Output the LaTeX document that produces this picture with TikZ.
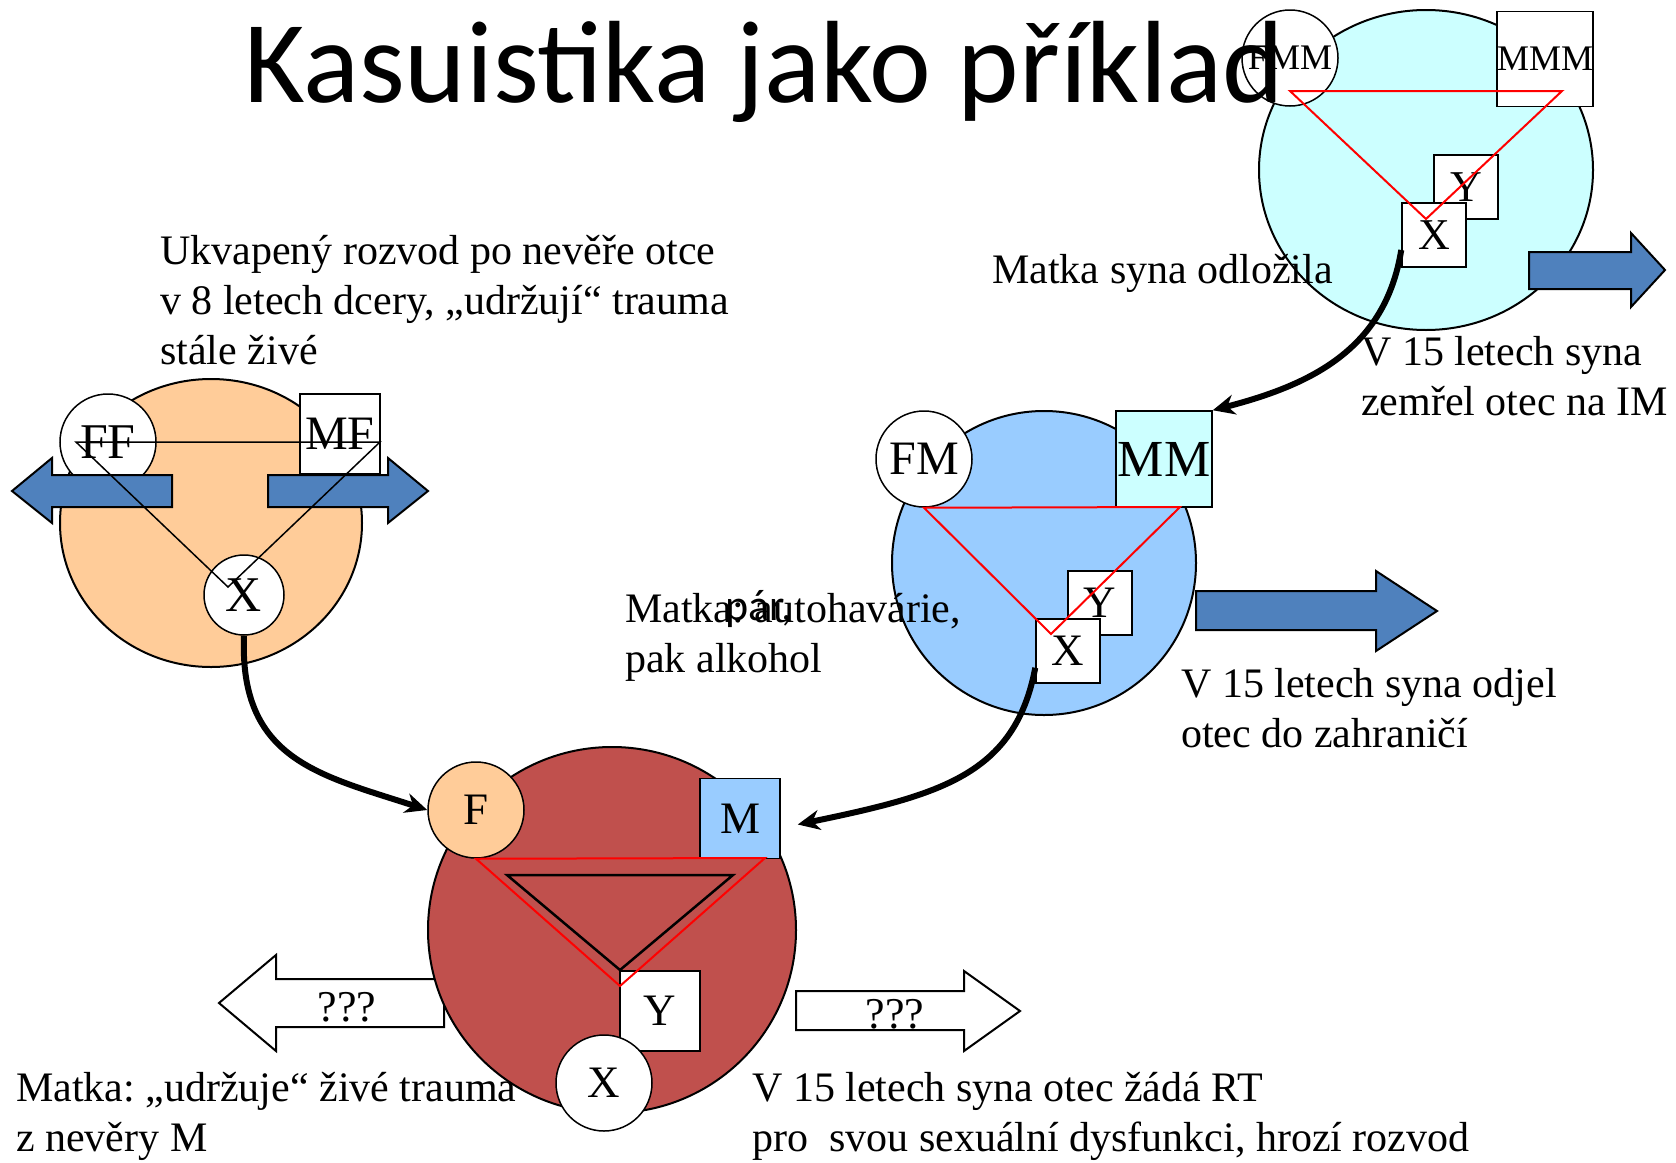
\documentclass[tikz,border=0pt]{standalone}
\usepackage{fontspec}
\setmainfont{Liberation Serif}
\newfontfamily\calibri{Carlito}
\usetikzlibrary{shapes.geometric,arrows.meta,calc}
\frenchspacing

\definecolor{orangefam}{RGB}{255,204,153}
\definecolor{bluefam}{RGB}{153,204,255}
\definecolor{cyanfam}{RGB}{204,255,255}
\definecolor{redfam}{RGB}{192,80,77}
\definecolor{arrowblue}{RGB}{79,129,189}

\tikzset{
  family/.style={ellipse, draw, line width=2pt, inner sep=0pt},
  person/.style={circle, draw, fill=white, line width=1.5pt, inner sep=0pt,
    minimum size=96pt, font=\fontsize{45}{50}\selectfont},
  personbox/.style={rectangle, draw, fill=white, line width=1.5pt, inner sep=0pt,
    minimum size=80pt, font=\fontsize{45}{50}\selectfont},
  redtri/.style={draw=red, line width=2pt},
  blockarrow/.style={draw, line width=2pt, fill=arrowblue},
  link/.style={line width=6pt, -{Stealth[length=22pt,width=20pt,inset=7pt]}},
  note/.style={anchor=base west, align=left, inner sep=0pt,
    font=\fontsize{42}{50}\selectfont},
}

\begin{document}
\begin{tikzpicture}[x=1pt,y=-1pt]
  \useasboundingbox (0,0) rectangle (1676,1162);

  % father's family
  \node[family, fill=orangefam, minimum width=302pt, minimum height=288pt] (famF) at (211,523) {};
  \node[person, font=\fontsize{50}{54}\selectfont] (FF) at (108,442) {FF};
  \node[personbox, font=\fontsize{48}{52}\selectfont] (MF) at (340,434) {MF};
  \draw[blockarrow] (172,475) -- (52,475) -- (52,458) -- (12,491) -- (52,523) -- (52,507) -- (172,507) -- cycle;
  \draw[blockarrow] (268,475) -- (388,475) -- (388,458) -- (428,491) -- (388,523) -- (388,507) -- (268,507) -- cycle;
  \node[person, minimum size=80pt, font=\fontsize{50}{54}\selectfont] (X1) at (244,595) {X};
  \draw[line width=1.5pt] (76,442) -- (380,442) -- (228,587) -- cycle;

  % mother's family
  \node[family, fill=bluefam, minimum size=304pt] (famM) at (1044,563) {};
  \node[person, font=\fontsize{48}{50}\selectfont] (FM) at (924,459) {FM};
  \node[personbox, fill=cyanfam, minimum size=96pt, font=\fontsize{52}{56}\selectfont] (MM) at (1164,459) {MM};
  \node[personbox, minimum size=64pt] (Y2) at (1100,603) {Y};
  \node[personbox, minimum size=64pt] (X2) at (1068,651) {X};
  \draw[redtri] (FM.south) -- (1180,507) -- (1051,634) -- cycle;
  \draw[blockarrow] (1196,591) -- (1376,591) -- (1376,571) -- (1437,611) -- (1376,651) -- (1376,630) -- (1196,630) -- cycle;

  % grandmother's family
  \node[family, fill=cyanfam, minimum width=334pt, minimum height=320pt] (famMM) at (1426,170) {};
  \node[person, font=\fontsize{36}{40}\selectfont] (FMM) at (1290,58) {FMM};
  \node[personbox, minimum size=95pt, font=\fontsize{36}{40}\selectfont] (MMM) at (1545,59) {MMM};
  \node[personbox, minimum size=64pt, font=\fontsize{44}{50}\selectfont] (Y3) at (1466,187) {Y};
  \node[personbox, minimum size=64pt, font=\fontsize{44}{50}\selectfont] (X3) at (1434,235) {X};
  \draw[redtri] (1290,91) -- (1562,91) -- (1426,219) -- cycle;
  \draw[blockarrow] (1529,252) -- (1631,252) -- (1631,233) -- (1665,270) -- (1631,307) -- (1631,289) -- (1529,289) -- cycle;

  % the couple
  \draw[line width=2pt, fill=white] (444,979) -- (276,979) -- (276,955) -- (219,1003) -- (276,1051) -- (276,1027) -- (444,1027) -- cycle;
  \draw[line width=2pt, fill=white] (796,991) -- (964,991) -- (964,971) -- (1020,1011) -- (964,1051) -- (964,1030) -- (796,1030) -- cycle;
  \node[anchor=base, inner sep=0pt, font=\fontsize{44}{50}\selectfont] (qL) at (347,1021) {???};
  \node[anchor=base, inner sep=0pt, font=\fontsize{44}{50}\selectfont] (qR) at (895,1028) {???};
  \node[family, fill=redfam, minimum width=368pt, minimum height=366pt] (famR) at (612,930) {};
  \node[person, fill=orangefam] (F) at (476,810) {F};
  \node[personbox, fill=bluefam] (M) at (740,818.5) {M};
  \node[personbox] (Y) at (660,1011) {Y};
  \draw[line width=2.5pt] (507,875) -- (733,875) -- (620,970) -- cycle;
  \draw[redtri] (F.south) -- (765,858) -- (620,986) -- cycle;
  \node[person] (X) at (604,1083) {X};

  % texts (base = last line)
  \node[note] (txtDivorce) at (160,364) {Ukvapený rozvod po nevěře otce\\v 8 letech dcery, „udržují“ trauma\\stále živé};
  \node[note] (txtLeft) at (992,283) {Matka syna odložila};
  \node[note] (txtDied) at (1361,415) {V 15 letech syna\\zemřel otec na IM};
  \node[note] (txtCrash) at (625,672) {Matka: autohavárie,\\pak alkohol};
  \node[anchor=base west, inner sep=0pt, font=\calibri\fontsize{44}{50}\selectfont] (txtPair) at (725,620) {pár,};
  \node[note] (txtAbroad) at (1181,747) {V 15 letech syna odjel\\otec do zahraničí};
  \node[note] (txtMother) at (16,1151) {Matka: „udržuje“ živé trauma\\z nevěry M};
  \node[note] (txtFather) at (752,1151) {V 15 letech syna otec žádá RT\\pro\ \ svou sexuální dysfunkci, hrozí rozvod};

  % transmission
  \draw[link] (X1.south) .. controls (239,760) and (320,775) .. (F.west);
  \draw[link] ($(X2.south west)+(0,-16)$) .. controls (1015,775) and (940,795) .. ($(M.east)+(17,6)$);
  \draw[link] ($(X3.west)+(0,15)$) .. controls (1385,350) and (1310,385) .. (MM.north east);

  \node[anchor=base west, inner sep=0pt, font=\calibri\fontsize{117}{140}\selectfont] (title) at (244,102) {Kasuistika jako příklad};
\end{tikzpicture}
\end{document}
